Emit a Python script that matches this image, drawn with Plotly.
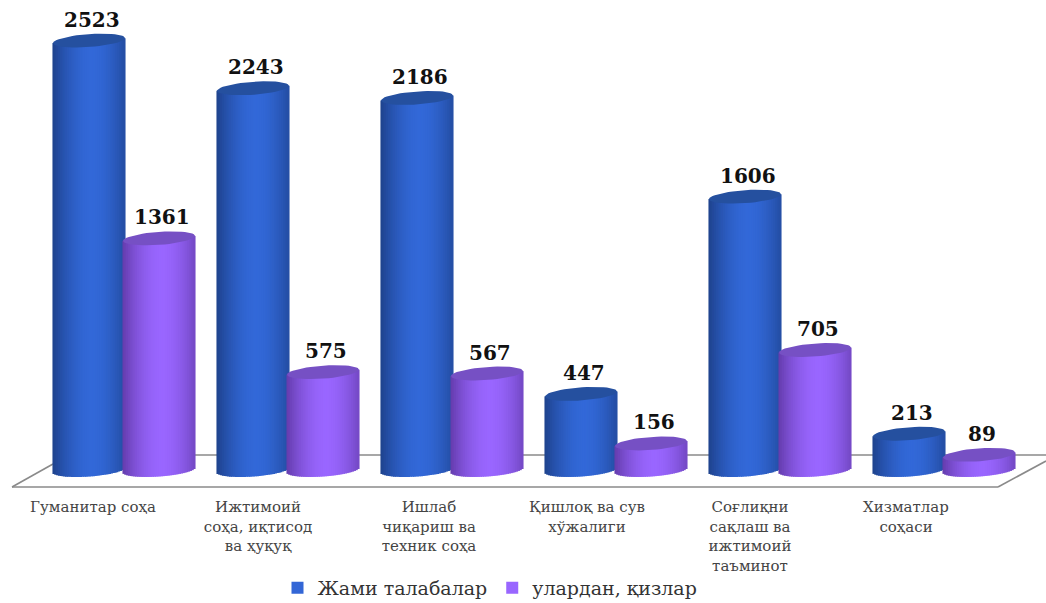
import numpy as np
import plotly.graph_objects as go

categories = ["Гуманитар соҳа", "Ижтимоий<br>соҳа, иқтисод<br>ва ҳуқуқ", "Ишлаб<br>чиқариш ва<br>техник соҳа",
              "Қишлоқ ва сув<br>хўжалиги", "Соғлиқни<br>сақлаш ва<br>ижтимоий<br>таъминот", "Хизматлар<br>соҳаси"]
total_students = [2523, 2243, 2186, 447, 1606, 213]
girls = [1361, 575, 567, 156, 705, 89]
series_names = ["Жами талабалар", "улардан, қизлар"]

W, H = 1046, 603
FLOOR_FRONT, BASE_PX = 487, 470
K = 0.1702            # pixels per value unit
GROUP = 164.0
GROUP0 = 124.0
HALF = 36 / GROUP     # cylinder half-width, in group units
CAP_B, CAP_TILT = 6.5, 2.5
N = 40
FONT = "DejaVu Serif"

def mix(c1, c2, t):
    return "rgb(%d,%d,%d)" % tuple(round(a + (b - a) * t) for a, b in zip(c1, c2))

def paper(px, py):
    return px / W, 1 - py / H

styles = [
    dict(values=total_students, off=-35 / GROUP, edge=(30, 66, 140), mid=(50, 104, 216), cap="#25509f", swatch="#3366d6"),
    dict(values=girls, off=35 / GROUP, edge=(100, 60, 172), mid=(153, 102, 255), cap="#7650c4", swatch="#9966ff"),
]

fig = go.Figure()
edges = np.linspace(-1, 1, N + 1)
centres = (edges[:-1] + edges[1:]) / 2
idx = np.arange(len(categories))

for s, st in enumerate(styles):
    v = np.array(st["values"], float)
    cx = idx + st["off"]
    for j, u in enumerate(centres):
        t = max(0.0, 1 - (abs(u - 0.1) / 1.1) ** 1.8)
        sq = np.sqrt(max(0, 1 - u * u))
        base = np.full(len(v), (CAP_TILT * u - CAP_B * sq) / K)
        top = v + CAP_TILT * u / K
        fig.add_trace(go.Bar(
            x=cx + u * HALF, y=top - base, base=base,
            width=2 * HALF / N * 1.6,
            marker=dict(color=mix(st["edge"], st["mid"], t), line=dict(width=0)),
            name=series_names[s], showlegend=False, hoverinfo="skip"))
    # legend entry: a plain bar outside the drawn range of values
    fig.add_trace(go.Bar(x=[idx[0]], y=[0], width=0.001, marker=dict(color=st["swatch"], line=dict(width=0)),
                         name=series_names[s], showlegend=True, hoverinfo="skip"))

for s, st in enumerate(styles):
    v = np.array(st["values"], float)
    cx = idx + st["off"]
    th = np.linspace(0, 2 * np.pi, 50)
    xs, ys = [], []
    for c, val in zip(cx, v):
        xs += list(c + HALF * np.cos(th)) + [None]
        ys += list(val + (CAP_B * np.sin(th) + CAP_TILT * np.cos(th)) / K) + [None]
    fig.add_trace(go.Scatter(x=xs, y=ys, mode="lines", fill="toself", fillcolor=st["cap"],
                             line=dict(width=0, color=st["cap"]), showlegend=False, hoverinfo="skip"))
    for c, val in zip(cx, st["values"]):
        fig.add_annotation(x=c, y=val, text=f"<b>{val}</b>", showarrow=False, yshift=21, xshift=3,
                           font=dict(family=FONT, size=20, color="#111111"))

floor = [((12, 487), (998, 487)), ((53, 455), (1046, 455)), ((12, 487), (53, 464)), ((998, 487), (1046, 461))]
for a, b in floor:
    x0, y0 = paper(*a)
    x1, y1 = paper(*b)
    fig.add_shape(type="line", xref="paper", yref="paper", x0=x0, y0=y0, x1=x1, y1=y1,
                  line=dict(color="#8a8a8a", width=1.6), layer="below")

label_shift = [-31, -30, -23, -29, -30, -38]   # pixels from group centre to label centre
tickvals = [i + d / GROUP for i, d in zip(idx, label_shift)]

fig.update_layout(
    width=W, height=H, barmode="overlay", paper_bgcolor="white", plot_bgcolor="rgba(0,0,0,0)",
    margin=dict(l=0, r=0, t=0, b=0, autoexpand=False),
    xaxis=dict(domain=[0, 1], range=[(0 - GROUP0) / GROUP, (W - GROUP0) / GROUP], showgrid=False, zeroline=False,
               showline=False, tickmode="array", tickvals=tickvals, ticktext=categories, tickangle=0,
               ticks="outside", ticklen=6, tickcolor="rgba(0,0,0,0)", automargin=False,
               tickfont=dict(family=FONT, size=15, color="#444444")),
    yaxis=dict(domain=[1 - FLOOR_FRONT / H, 1], range=[(BASE_PX - FLOOR_FRONT) / K, BASE_PX / K], visible=False),
    legend=dict(orientation="h", x=490 / W, xanchor="center", y=1 - 588 / H, yanchor="middle", traceorder="normal",
                font=dict(family=FONT, size=19, color="#333333"), bgcolor="rgba(0,0,0,0)"),
    showlegend=True,
)

fig.write_html("out.html", config={"displayModeBar": False},
               post_script="document.body.style.margin='0';document.body.style.overflow='hidden';")
